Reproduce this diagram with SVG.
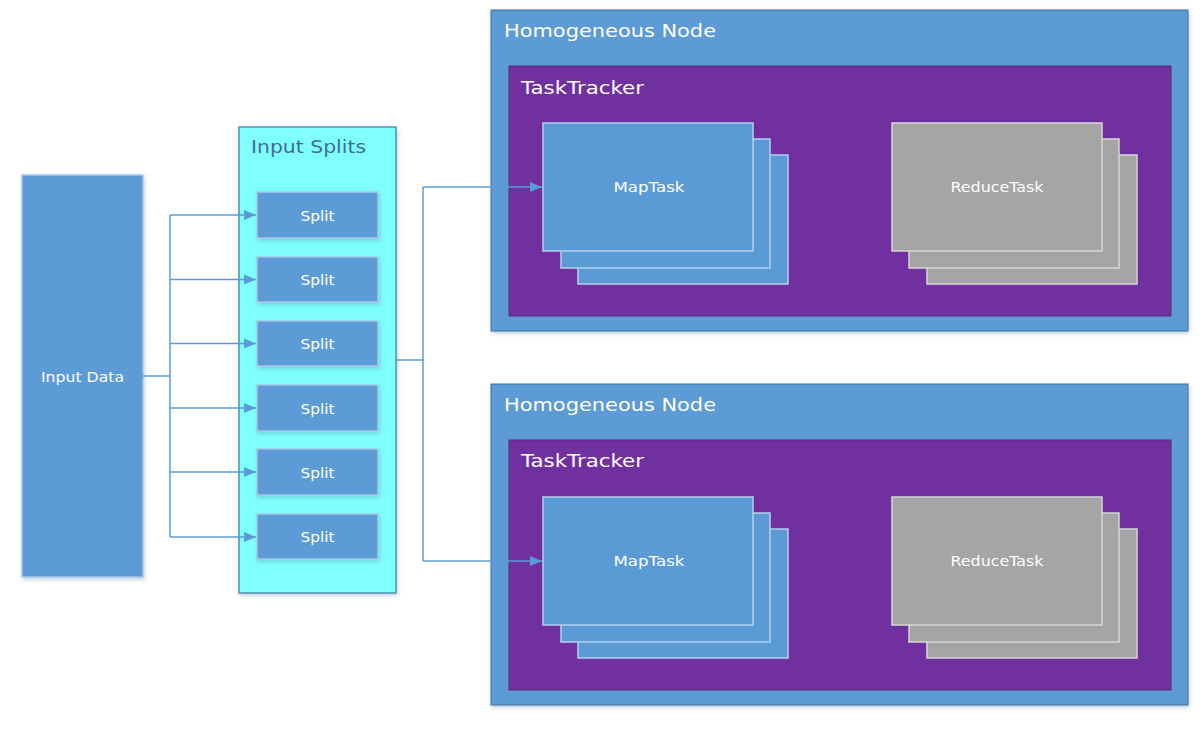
<svg xmlns="http://www.w3.org/2000/svg" width="1201" height="735" viewBox="0 0 1201 735">
<defs>
<style>
.bg{fill:#ffffff}
.blue{fill:#5B9BD5;stroke:#A9C8E8;stroke-width:1.5}
.node{fill:#5B9BD5;stroke:#41719C;stroke-width:1}
.tt{fill:#7030A0;stroke:#5B2A85;stroke-width:1}
.map{fill:#5B9BD5;stroke:#B4CFEB;stroke-width:1.5}
.red{fill:#A5A5A5;stroke:#D6D6D6;stroke-width:1.5}
.cyan{fill:#80FFFF;stroke:#3B7A9A;stroke-width:1.2}
.title{font-family:"DejaVu Sans",Verdana,sans-serif;font-size:17px;fill:#ffffff}
.lbl{font-family:"DejaVu Sans",Verdana,sans-serif;font-size:14px;fill:#ffffff;text-anchor:middle}
.stitle{font-family:"DejaVu Sans",Verdana,sans-serif;font-size:17px;fill:#3F6E92}
.conn{fill:none;stroke:#5B9BD5;stroke-width:1.5}
</style>
<marker id="arr" markerWidth="12" markerHeight="12" refX="12" refY="6" orient="auto" markerUnits="userSpaceOnUse">
<path d="M0,1 L12,6 L0,11 Z" fill="#5B9BD5"/>
</marker>
<filter id="sh" x="-10%" y="-10%" width="125%" height="125%">
<feDropShadow dx="1" dy="2" stdDeviation="2" flood-color="#4a78a8" flood-opacity="0.35"/>
</filter>
</defs>
<rect class="bg" x="0" y="0" width="1201" height="735"/>

<g id="input-data">
<rect class="blue" x="22" y="175" width="121" height="402" filter="url(#sh)"/>
<text class="lbl" x="82.5" y="382" textLength="83" lengthAdjust="spacingAndGlyphs">Input Data</text>
</g>

<g id="input-splits">
<rect class="cyan" x="239" y="127" width="157" height="466" filter="url(#sh)"/>
<text class="stitle" x="251" y="153" textLength="115" lengthAdjust="spacingAndGlyphs">Input Splits</text>
</g>
<g id="split1"><rect class="blue" x="257" y="192" width="121" height="46" filter="url(#sh)"/><text class="lbl" x="317.5" y="221" textLength="34" lengthAdjust="spacingAndGlyphs">Split</text></g>
<g id="split2"><rect class="blue" x="257" y="257" width="121" height="45" filter="url(#sh)"/><text class="lbl" x="317.5" y="285" textLength="34" lengthAdjust="spacingAndGlyphs">Split</text></g>
<g id="split3"><rect class="blue" x="257" y="321" width="121" height="45" filter="url(#sh)"/><text class="lbl" x="317.5" y="349" textLength="34" lengthAdjust="spacingAndGlyphs">Split</text></g>
<g id="split4"><rect class="blue" x="257" y="385" width="121" height="46" filter="url(#sh)"/><text class="lbl" x="317.5" y="414" textLength="34" lengthAdjust="spacingAndGlyphs">Split</text></g>
<g id="split5"><rect class="blue" x="257" y="449" width="121" height="46" filter="url(#sh)"/><text class="lbl" x="317.5" y="478" textLength="34" lengthAdjust="spacingAndGlyphs">Split</text></g>
<g id="split6"><rect class="blue" x="257" y="514" width="121" height="45" filter="url(#sh)"/><text class="lbl" x="317.5" y="542" textLength="34" lengthAdjust="spacingAndGlyphs">Split</text></g>

<g id="node1">
<rect class="node" x="491" y="10" width="697" height="321" filter="url(#sh)"/>
<text class="title" x="504" y="37" textLength="212" lengthAdjust="spacingAndGlyphs">Homogeneous Node</text>
<rect class="tt" x="509" y="66" width="662" height="250"/>
<text class="title" x="521" y="94" textLength="123" lengthAdjust="spacingAndGlyphs">TaskTracker</text>
</g>
<g id="maptask1">
<rect class="map" x="578" y="155" width="210" height="129"/>
<rect class="map" x="561" y="139" width="209" height="129"/>
<rect class="map" x="543" y="123" width="210" height="128"/>
<text class="lbl" x="649" y="192" textLength="71" lengthAdjust="spacingAndGlyphs">MapTask</text>
</g>
<g id="reducetask1">
<rect class="red" x="927" y="155" width="210" height="129"/>
<rect class="red" x="909" y="139" width="210" height="129"/>
<rect class="red" x="892" y="123" width="210" height="128"/>
<text class="lbl" x="997" y="192" textLength="93" lengthAdjust="spacingAndGlyphs">ReduceTask</text>
</g>

<g id="node2">
<rect class="node" x="491" y="384" width="697" height="321" filter="url(#sh)"/>
<text class="title" x="504" y="411" textLength="212" lengthAdjust="spacingAndGlyphs">Homogeneous Node</text>
<rect class="tt" x="509" y="440" width="662" height="250"/>
<text class="title" x="521" y="467" textLength="123" lengthAdjust="spacingAndGlyphs">TaskTracker</text>
</g>
<g id="maptask2">
<rect class="map" x="578" y="529" width="210" height="129"/>
<rect class="map" x="561" y="513" width="209" height="129"/>
<rect class="map" x="543" y="497" width="210" height="128"/>
<text class="lbl" x="649" y="566" textLength="71" lengthAdjust="spacingAndGlyphs">MapTask</text>
</g>
<g id="reducetask2">
<rect class="red" x="927" y="529" width="210" height="129"/>
<rect class="red" x="909" y="513" width="210" height="129"/>
<rect class="red" x="892" y="497" width="210" height="128"/>
<text class="lbl" x="997" y="566" textLength="93" lengthAdjust="spacingAndGlyphs">ReduceTask</text>
</g>

<g id="connectors">
<path class="conn" d="M143,376 H170"/>
<path class="conn" d="M170,215 V537"/>
<path class="conn" d="M170,215 H256" marker-end="url(#arr)"/>
<path class="conn" d="M170,279.5 H256" marker-end="url(#arr)"/>
<path class="conn" d="M170,343.5 H256" marker-end="url(#arr)"/>
<path class="conn" d="M170,408 H256" marker-end="url(#arr)"/>
<path class="conn" d="M170,472 H256" marker-end="url(#arr)"/>
<path class="conn" d="M170,537 H256" marker-end="url(#arr)"/>
<path class="conn" d="M396,360 H423"/>
<path class="conn" d="M423,187 V561"/>
<path class="conn" d="M423,187 H542" marker-end="url(#arr)"/>
<path class="conn" d="M423,561 H542" marker-end="url(#arr)"/>
</g>
</svg>
